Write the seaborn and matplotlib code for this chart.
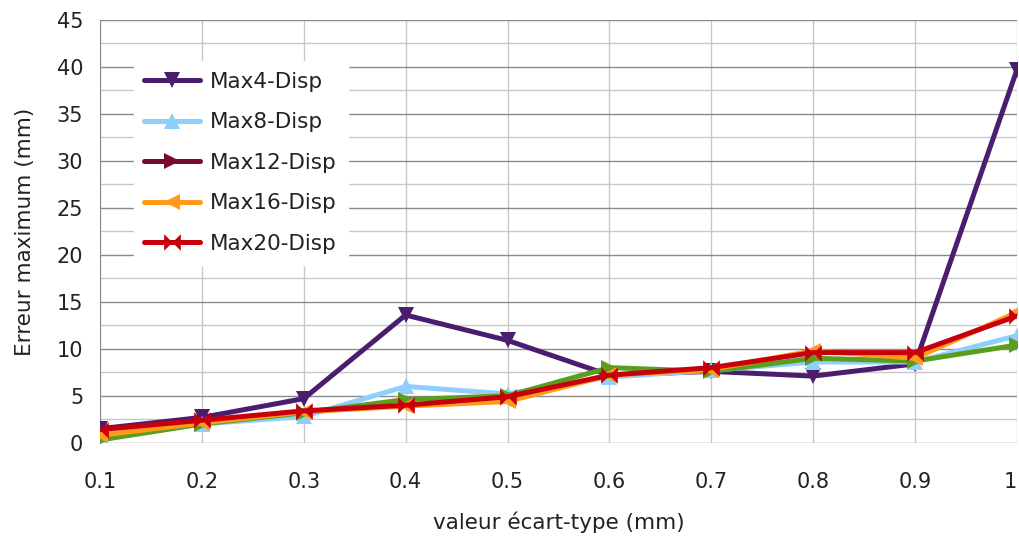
import numpy as np
import pandas as pd
import matplotlib
matplotlib.use("Agg")
import matplotlib.pyplot as plt
from matplotlib.lines import Line2D
from matplotlib.ticker import MultipleLocator
import seaborn as sns

x_vals = [0.1, 0.2, 0.3, 0.4, 0.5, 0.6, 0.7, 0.8, 0.9, 1.0]
max4 = [1.5, 2.7, 4.7, 13.6, 10.9, 7.2, 7.6, 7.1, 8.4, 39.7]
max8 = [0.8, 2.0, 2.8, 6.0, 5.2, 7.0, 7.7, 8.6, 8.6, 11.4]
max12 = [0.3, 2.0, 3.2, 4.6, 5.0, 8.0, 7.6, 9.0, 8.7, 10.4]
max16 = [0.8, 2.1, 3.3, 3.9, 4.4, 7.2, 7.8, 9.8, 9.0, 13.9]
max20 = [1.4, 2.4, 3.4, 4.0, 4.9, 7.2, 8.0, 9.6, 9.6, 13.5]
series_names = ["Max4-Disp", "Max8-Disp", "Max12-Disp", "Max16-Disp", "Max20-Disp"]
x_tick_labels = ["0.1", "0.2", "0.3", "0.4", "0.5", "0.6", "0.7", "0.8", "0.9", "1"]

line_colors = {"Max4-Disp": "#4B1D6E", "Max8-Disp": "#8ECFFB", "Max12-Disp": "#5A9E1E",
               "Max16-Disp": "#FF9A1A", "Max20-Disp": "#C8000C"}
legend_colors = {"Max4-Disp": "#4B1D6E", "Max8-Disp": "#8ECFFB", "Max12-Disp": "#7A0A2A",
                 "Max16-Disp": "#FF9A1A", "Max20-Disp": "#C8000C"}
bowtie = [(-1, -1), (-1, 1), (1, -1), (1, 1), (-1, -1)]
markers = {"Max4-Disp": "v", "Max8-Disp": "^", "Max12-Disp": ">",
           "Max16-Disp": "<", "Max20-Disp": bowtie}

df = pd.DataFrame({
    "x": x_vals * 5,
    "y": max4 + max8 + max12 + max16 + max20,
    "series": sum([[n] * len(x_vals) for n in series_names], []),
})

sns.set_style("white")
plt.rcParams['font.family'] = ['DejaVu Sans']

fig = plt.figure(figsize=(10.2, 5.4), dpi=100)
ax = fig.add_axes([0.098, 0.18, 0.899, 0.783])

for name in series_names:
    sub = df[df.series == name]
    sns.lineplot(data=sub, x="x", y="y", ax=ax, color=line_colors[name],
                 marker=markers[name], markersize=12, linewidth=3.6,
                 markeredgewidth=0, legend=False, zorder=3)

ax.set_xlim(0.1, 1.0)
ax.set_ylim(0, 45)
ax.set_xticks(x_vals)
ax.set_xticklabels(x_tick_labels)
ax.get_xticklabels()[-1].set_horizontalalignment("right")
ax.yaxis.set_major_locator(MultipleLocator(5))
ax.yaxis.set_minor_locator(MultipleLocator(2.5))
ax.grid(True, which="major", axis="y", color="#8a8a8a", linewidth=1.0)
ax.grid(True, which="minor", axis="y", color="#c8c8c8", linewidth=1.0)
ax.grid(True, which="major", axis="x", color="#c8c8c8", linewidth=1.0)
ax.set_axisbelow(True)
for s in ["top", "right", "bottom"]:
    ax.spines[s].set_visible(False)
ax.spines["left"].set_color("#8a8a8a")
ax.tick_params(axis="both", which="major", labelsize=15, colors="#222222",
               length=7, width=1, direction="out", pad=5)
ax.tick_params(axis="y", which="major", color="#8a8a8a")
ax.tick_params(axis="x", which="major", color="#c8c8c8", pad=14)
ax.tick_params(axis="y", which="minor", length=0)

ax.set_xlabel("valeur écart-type (mm)", fontsize=15.5, color="#222222", labelpad=14)
ax.set_ylabel("Erreur maximum (mm)", fontsize=15.5, color="#222222", labelpad=16)

handles = [Line2D([0], [0], color=legend_colors[n], linewidth=3.6, marker=markers[n],
                  markersize=12, markeredgewidth=0) for n in series_names]
leg = ax.legend(handles, series_names, loc="upper left", bbox_to_anchor=(0.025, 0.928),
                frameon=True, fontsize=15.5, handlelength=2.6, labelspacing=0.95,
                borderpad=0.5, handletextpad=0.45)
leg.get_frame().set_facecolor("white")
leg.get_frame().set_edgecolor("white")
leg.get_frame().set_alpha(1.0)
for t in leg.get_texts():
    t.set_color("#222222")

fig.savefig("out.png", dpi=100)
